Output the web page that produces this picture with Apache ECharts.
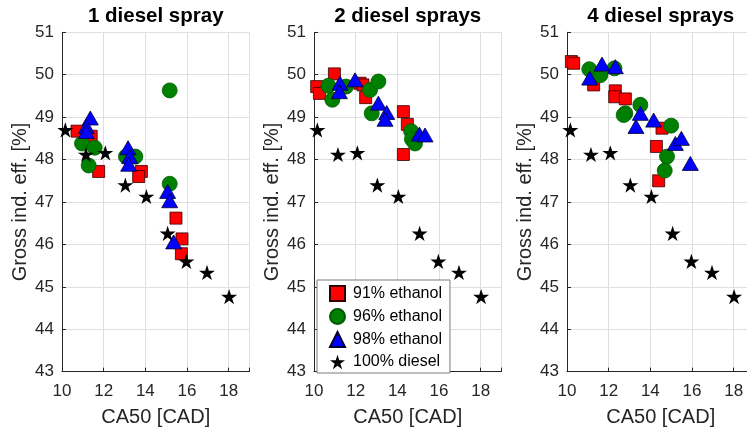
<!DOCTYPE html>
<html>
<head>
<meta charset="utf-8">
<script src="https://cdn.jsdelivr.net/npm/echarts@6/dist/echarts.min.js"></script>
<style>
  html, body { margin: 0; padding: 0; background: #fff; }
  #chart { width: 747px; height: 428px; }
</style>
</head>
<body>
<div id="chart"></div>
<script>
// panel titles and legend names
const panelTitles = ['1 diesel spray', '2 diesel sprays', '4 diesel sprays'];
const seriesNames = ['91% ethanol', '96% ethanol', '98% ethanol', '100% diesel'];
const xTicks = [10, 12, 14, 16, 18];

// 100% diesel reference, same in every panel
const dieselPts = [[10.16, 48.70], [11.15, 48.12], [12.08, 48.16], [13.04, 47.40], [14.05, 47.13],
    [15.07, 46.26], [15.97, 45.60], [16.96, 45.34], [18.02, 44.77]];

// 1 diesel spray
const p1Eth91 = [[10.72, 48.67], [11.40, 48.55], [11.76, 47.72], [13.81, 47.72], [13.68, 47.60],
    [15.47, 46.62], [15.76, 46.13], [15.73, 45.78]];
const p1Eth96 = [[15.17, 49.63], [10.96, 48.38], [11.57, 48.28], [11.28, 47.86], [13.07, 48.07],
    [13.52, 48.07], [15.17, 47.43]];
const p1Eth98 = [[11.36, 48.98], [11.17, 48.78], [11.17, 48.66], [13.17, 48.28], [13.25, 48.07],
    [13.20, 47.89], [15.07, 47.25], [15.17, 47.03], [15.36, 46.06]];

// 2 diesel sprays
const p2Eth91 = [[10.13, 49.72], [10.26, 49.56], [10.98, 50.02], [12.21, 49.80], [12.35, 49.76],
    [12.48, 49.46], [14.29, 49.13], [14.48, 48.83], [14.29, 48.12]];
const p2Eth96 = [[10.69, 49.74], [10.88, 49.41], [11.54, 49.72], [12.69, 49.64], [13.09, 49.84],
    [12.77, 49.09], [14.66, 48.67], [14.70, 48.48], [14.85, 48.38]];
const p2Eth98 = [[11.25, 49.80], [11.22, 49.60], [11.97, 49.88], [13.09, 49.33], [13.49, 49.11],
    [13.41, 48.95], [15.06, 48.60], [15.33, 48.58]];

// 4 diesel sprays
const p3Eth91 = [[10.21, 50.31], [10.32, 50.27], [11.28, 49.76], [12.32, 49.62], [12.29, 49.48],
    [12.80, 49.43], [14.56, 48.74], [14.29, 48.31], [14.40, 47.50]];
const p3Eth96 = [[11.07, 50.13], [11.60, 49.99], [12.28, 50.15], [12.80, 49.09], [12.72, 49.05],
    [13.52, 49.29], [15.00, 48.80], [14.80, 48.07], [14.69, 47.74]];
const p3Eth98 = [[11.09, 49.92], [11.68, 50.25], [12.32, 50.19], [13.52, 49.09], [13.31, 48.78],
    [14.16, 48.93], [15.20, 48.38], [15.49, 48.50], [15.92, 47.91]];

const panels = [
    [p1Eth91, p1Eth96, p1Eth98, dieselPts],
    [p2Eth91, p2Eth96, p2Eth98, dieselPts],
    [p3Eth91, p3Eth96, p3Eth98, dieselPts]
];

const FONT = "'Liberation Sans', Arial, sans-serif";
const TXT = '#262626';
const STAR = 'path://M100,0L122.45,69.1L195.1,69.1L136.3,111.8L158.8,180.9L100,138.2L41.2,180.9L63.7,111.8L4.9,69.1L77.55,69.1Z';

const gridLefts = [62, 314, 567];
const gridW = 187.5;

const markerStyles = [
    { symbol: 'rect', symbolSize: 12, itemStyle: { color: '#ff0000', borderColor: '#300000', borderWidth: 0.8, opacity: 1 } },
    { symbol: 'circle', symbolSize: 15, itemStyle: { color: '#008000', borderColor: '#005a00', borderWidth: 0.8, opacity: 1 } },
    { symbol: 'triangle', symbolSize: [16, 14], itemStyle: { color: '#0000ff', borderColor: '#000033', borderWidth: 0.8, opacity: 1 } },
    { symbol: STAR, symbolSize: 16, symbolKeepAspect: true, itemStyle: { color: '#000000', opacity: 1 } }
];

const grids = [], xAxes = [], yAxes = [], titles = [], series = [];

gridLefts.forEach((left, i) => {
    grids.push({ left: left, top: 32.3, width: gridW, height: 339.4, outerBoundsMode: 'none' });
    titles.push({
        text: panelTitles[i],
        left: left + gridW / 2,
        textAlign: 'center',
        top: 6,
        padding: 0,
        textStyle: { fontFamily: FONT, fontSize: 20.5, fontWeight: 'bold', color: '#000' }
    });
    xAxes.push({
        gridIndex: i, type: 'value', min: 10, max: 19, interval: 2,
        name: 'CA50 [CAD]', nameLocation: 'middle', nameGap: 36,
        nameTextStyle: { fontFamily: FONT, fontSize: 20, color: TXT },
        axisLine: { show: true, onZero: false, lineStyle: { color: TXT, width: 1 } },
        axisTick: { show: true, inside: true, length: 4, lineStyle: { color: TXT } },
        axisLabel: {
            margin: 11, fontFamily: FONT, fontSize: 17, color: TXT,
            formatter: v => xTicks.includes(v) ? String(v) : ''
        },
        splitLine: { show: true, lineStyle: { color: '#dfdfdf', width: 1 } }
    });
    yAxes.push({
        gridIndex: i, type: 'value', min: 43, max: 51, interval: 1,
        name: 'Gross ind. eff. [%]', nameLocation: 'middle', nameGap: 32,
        nameTextStyle: { fontFamily: FONT, fontSize: 20, color: TXT },
        axisLine: { show: true, onZero: false, lineStyle: { color: TXT, width: 1 } },
        axisTick: { show: true, inside: true, length: 4, lineStyle: { color: TXT } },
        axisLabel: { margin: 8, fontFamily: FONT, fontSize: 17, color: TXT },
        splitLine: { show: true, lineStyle: { color: '#dfdfdf', width: 1 } }
    });
    panels[i].forEach((pts, k) => {
        series.push(Object.assign({
            type: 'scatter',
            name: seriesNames[k],
            xAxisIndex: i,
            yAxisIndex: i,
            data: pts,
            z: 2 + k
        }, markerStyles[k]));
    });
});

const chart = echarts.init(document.getElementById('chart'), null, { renderer: 'canvas' });
chart.setOption({
    animation: false,
    backgroundColor: '#fff',
    title: titles,
    legend: {
        data: seriesNames.map((n, k) => ({ name: n, icon: markerStyles[k].symbol })),
        orient: 'vertical',
        left: 317,
        top: 280,
        padding: [5, 8, 3, 12],
        itemWidth: 15,
        itemHeight: 15,
        itemGap: 6,
        backgroundColor: '#fff',
        borderColor: '#7a7a7a',
        borderWidth: 1,
        borderRadius: 0,
        textStyle: { fontFamily: FONT, fontSize: 16, color: '#000', padding: [0, 0, 0, 3] }
    },
    grid: grids,
    xAxis: xAxes,
    yAxis: yAxes,
    series: series
});
</script>
</body>
</html>
